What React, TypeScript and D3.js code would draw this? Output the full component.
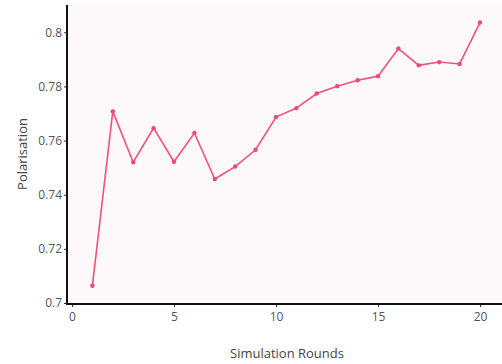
import { useEffect, useRef } from 'react';
import * as d3 from 'd3';

const rounds = [1, 2, 3, 4, 5, 6, 7, 8, 9, 10, 11, 12, 13, 14, 15, 16, 17, 18, 19, 20];
const polarisation = [
  0.7064, 0.7708, 0.7520, 0.7646, 0.7522, 0.7628, 0.7458, 0.7504, 0.7566, 0.7687,
  0.7720, 0.7774, 0.7801, 0.7823, 0.7838, 0.7940, 0.7878, 0.7890, 0.7883, 0.8036,
];
const xTicks = [0, 5, 10, 15, 20];
const yTicks = [0.7, 0.72, 0.74, 0.76, 0.78, 0.8];

export default function App() {
  const ref = useRef<SVGSVGElement>(null);

  useEffect(() => {
    const svg = d3.select(ref.current);
    svg.selectAll('*').remove();

    const W = 502, H = 364;
    const left = 67, right = 502, top = 5, bottom = 303;

    const x = d3.scaleLinear().domain([0, 20]).range([72, 480]);
    const y = d3.scaleLinear().domain([0.7, 0.8]).range([bottom, 32.3]);

    svg.attr('width', W).attr('height', H);

    svg.append('rect')
      .attr('x', left).attr('y', top)
      .attr('width', right - left).attr('height', bottom - top)
      .attr('fill', '#fdf8f9');

    const font = "'Open Sans', sans-serif";

    // y axis
    const gy = svg.append('g').attr('transform', `translate(${left},0)`)
      .call(d3.axisLeft(y).tickValues(yTicks).tickSize(3).tickPadding(2).tickFormat(d => String(+d)));
    gy.select('.domain').remove();
    gy.selectAll('.tick line').attr('stroke', '#333');
    gy.selectAll('text').style('fill', '#555').style('font-size', '12px').style('font-family', font);
    svg.append('line')
      .attr('x1', left).attr('x2', left).attr('y1', top).attr('y2', bottom + 1)
      .attr('stroke', '#111').attr('stroke-width', 2);

    // x axis
    const gx = svg.append('g').attr('transform', `translate(0,${bottom + 1})`)
      .call(d3.axisBottom(x).tickValues(xTicks).tickSize(3).tickPadding(5).tickFormat(d => String(d)));
    gx.select('.domain').remove();
    gx.selectAll('.tick line').attr('stroke', '#333');
    gx.selectAll('text').style('fill', '#555').style('font-size', '12px').style('font-family', font);
    svg.append('line')
      .attr('x1', left - 1).attr('x2', right).attr('y1', bottom + 1).attr('y2', bottom + 1)
      .attr('stroke', '#111').attr('stroke-width', 2);

    // axis titles
    svg.append('text')
      .attr('x', 287).attr('y', 358)
      .attr('text-anchor', 'middle')
      .style('fill', '#444').style('font-size', '13px').style('font-family', font)
      .text('Simulation Rounds');
    svg.append('text')
      .attr('transform', 'translate(27,154) rotate(-90)')
      .attr('text-anchor', 'middle')
      .style('fill', '#444').style('font-size', '13px').style('font-family', font)
      .text('Polarisation');

    const data = rounds.map((r, i) => ({ r, v: polarisation[i] }));
    const line = d3.line<{ r: number; v: number }>().x(d => x(d.r)).y(d => y(d.v));

    svg.append('path').datum(data)
      .attr('d', line)
      .attr('fill', 'none')
      .attr('stroke', '#f0527c')
      .attr('stroke-width', 1.6);

    svg.selectAll('.pt').data(data).enter().append('circle').attr('class', 'pt')
      .attr('cx', d => x(d.r)).attr('cy', d => y(d.v)).attr('r', 2.2)
      .attr('fill', '#ec4a76');
  }, []);

  return (
    <div style={{ position: 'absolute', left: 0, top: 0 }}>
      <svg ref={ref} style={{ display: 'block' }} />
    </div>
  );
}
